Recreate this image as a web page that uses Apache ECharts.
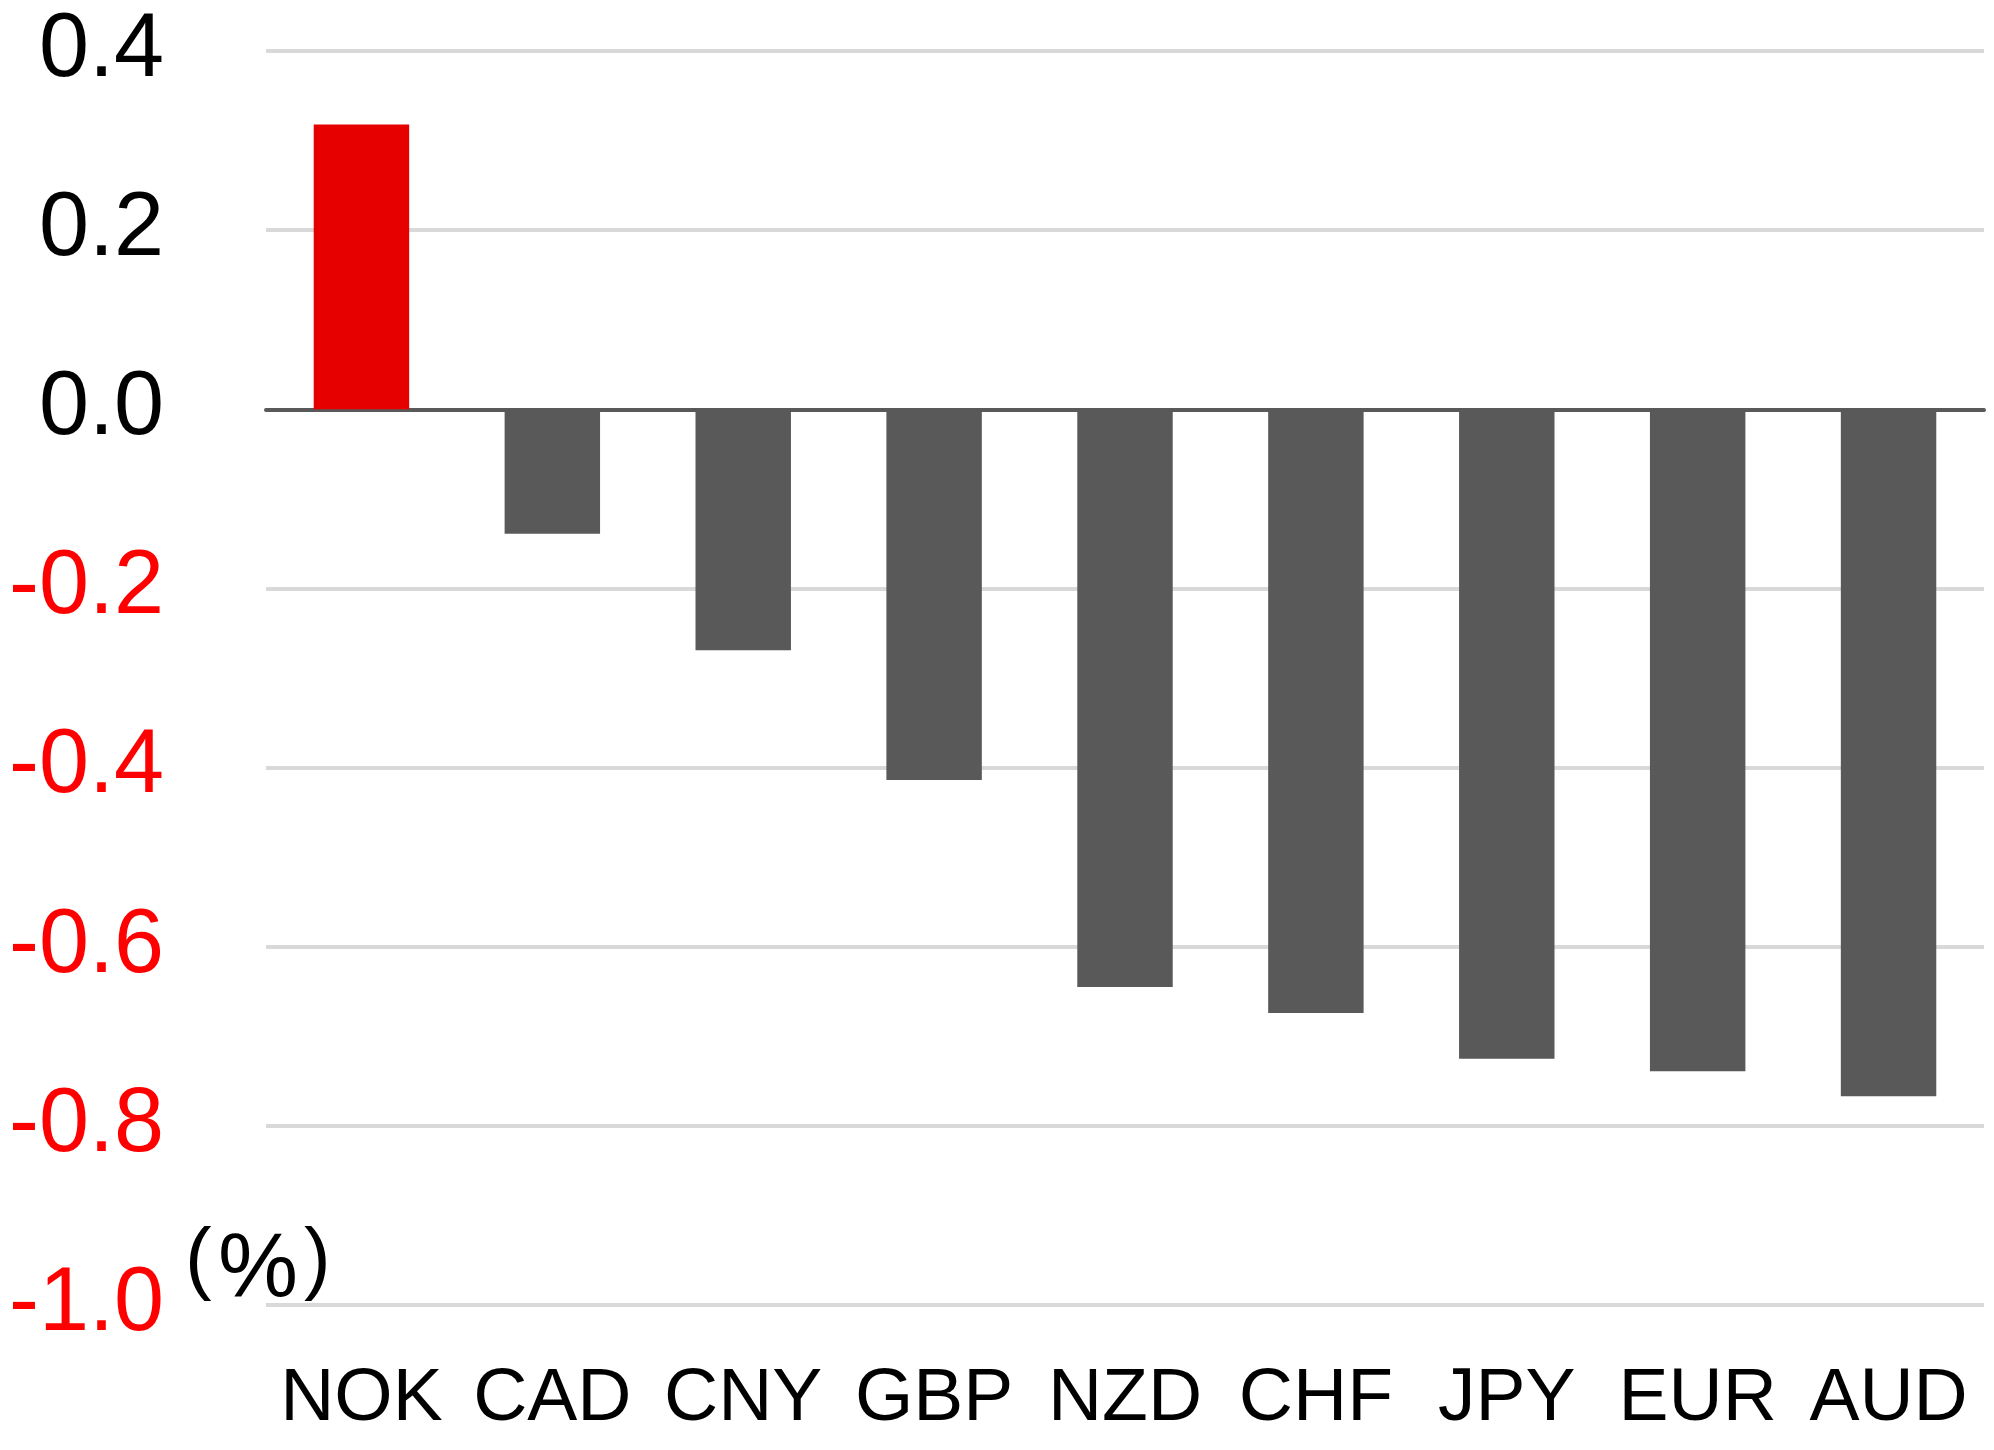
<!DOCTYPE html>
<html>
<head>
<meta charset="utf-8">
<script src="https://cdn.jsdelivr.net/npm/echarts@6/dist/echarts.min.js"></script>
<style>html,body{margin:0;padding:0;background:#fff}#c{width:1994px;height:1450px}</style>
</head>
<body>
<div id="c"></div>
<script>
const categories = ['NOK','CAD','CNY','GBP','NZD','CHF','JPY','EUR','AUD'];
const values = [0.318, -0.139, -0.269, -0.414, -0.645, -0.674, -0.725, -0.739, -0.767];
const highlight = 'NOK';
const yTicks = {min: -1.0, max: 0.4, interval: 0.2};
const unitParts = ['(', '%', ')'];

const chart = echarts.init(document.getElementById('c'), null, {renderer: 'canvas'});
const font = 'Liberation Sans, Arial';
chart.setOption({
  animation: false,
  backgroundColor: '#ffffff',
  grid: {left: 266, right: 10, top: 51, bottom: 145, containLabel: false},
  xAxis: {
    type: 'category',
    data: categories,
    axisLine: {onZero: true, lineStyle: {color: '#595959', width: 4}},
    axisTick: {show: false},
    axisLabel: {color: '#000', fontSize: 75, fontFamily: font, margin: 57, interval: 0}
  },
  yAxis: {
    type: 'value',
    min: yTicks.min, max: yTicks.max, interval: yTicks.interval,
    axisLine: {show: false},
    axisTick: {show: false},
    splitLine: {lineStyle: {color: '#d9d9d9', width: 4}},
    axisLabel: {
      fontSize: 90, fontFamily: font, margin: 102,
      formatter: v => v.toFixed(1),
      color: v => (parseFloat(v) < 0 ? '#ff0000' : '#000000')
    }
  },
  graphic: [
    {type: 'text', left: 185, top: 1222, style: {text: unitParts[0], fontSize: 80, fontFamily: font, fill: '#000'}},
    {type: 'text', left: 218, top: 1226, style: {text: unitParts[1], fontSize: 90, fontFamily: font, fill: '#000'}},
    {type: 'text', left: 304, top: 1222, style: {text: unitParts[2], fontSize: 80, fontFamily: font, fill: '#000'}}
  ],
  series: [{
    type: 'bar',
    barCategoryGap: '50%',
    data: values.map((v, i) => ({
      value: v,
      itemStyle: {color: categories[i] === highlight ? '#e60000' : '#595959'}
    }))
  }]
});
</script>
</body>
</html>
